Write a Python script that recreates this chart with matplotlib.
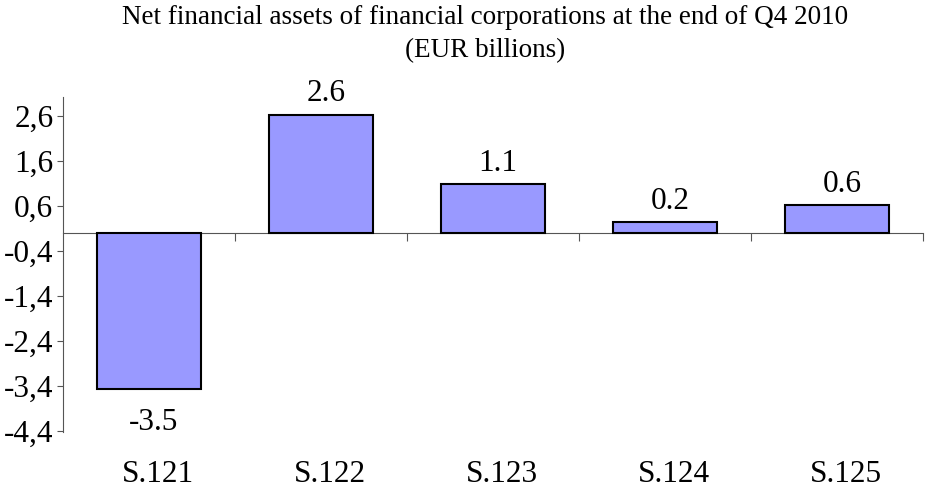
import matplotlib
matplotlib.use("Agg")
import matplotlib.pyplot as plt
from matplotlib.ticker import FixedLocator, FuncFormatter
import matplotlib.transforms as mtransforms

categories = ["S.121", "S.122", "S.123", "S.124", "S.125"]
values = [-3.46, 2.63, 1.08, 0.24, 0.62]
label_values = ["-3.5", "2.6", "1.1", "0.2", "0.6"]
yticks = [2.6, 1.6, 0.6, -0.4, -1.4, -2.4, -3.4, -4.4]
title = "Net financial assets of financial corporations at the end of Q4 2010\n(EUR billions)"

plt.rcParams['font.family'] = ['Liberation Serif', 'DejaVu Serif']

fig = plt.figure(figsize=(9.26, 4.91), dpi=100)
ax = fig.add_axes([63/926, 1-432/491, (923-63)/926, (432-97)/491])

x = list(range(len(categories)))
ax.bar(x, values, width=0.6, color="#9999ff", edgecolor="black", linewidth=1.5, zorder=3)

ax.set_xlim(-0.5, len(categories) - 0.5)
ax.set_ylim(-4.42, 3.02)

for s in ["top", "right"]:
    ax.spines[s].set_visible(False)
ax.spines["left"].set_color("#555555")
ax.spines["bottom"].set_position(("data", 0))
ax.spines["bottom"].set_color("#555555")
ax.spines["bottom"].set_zorder(2)

ax.yaxis.set_major_locator(FixedLocator(yticks))
ax.yaxis.set_major_formatter(FuncFormatter(lambda v, p: f"{v:.1f}".replace(".", ",")))
ax.tick_params(axis="y", direction="out", length=4, color="#555555", labelsize=22.5, pad=3)

ax.xaxis.set_major_locator(FixedLocator([i + 0.5 for i in x]))
ax.tick_params(axis="x", direction="out", length=6, color="#555555", labelbottom=False)

trans = mtransforms.blended_transform_factory(ax.transData, ax.transAxes)
for i, c in enumerate(categories):
    ax.annotate(c, (i, -0.128), xycoords=trans, xytext=(6.5, 0), textcoords="offset points",
                ha="center", va="center", fontsize=22.5)

for i, (v, lab) in enumerate(zip(values, label_values)):
    if v >= 0:
        ax.annotate(lab, (i, v), xytext=(3.5, 15), textcoords="offset points",
                    ha="center", va="center", fontsize=22.5)
    else:
        ax.annotate(lab, (i, v), xytext=(3.5, -24), textcoords="offset points",
                    ha="center", va="center", fontsize=22.5)

fig.text(485/926, 1-34/491, title, ha="center", va="center", fontsize=19.5, linespacing=1.4)

fig.savefig("out.png", dpi=100)
